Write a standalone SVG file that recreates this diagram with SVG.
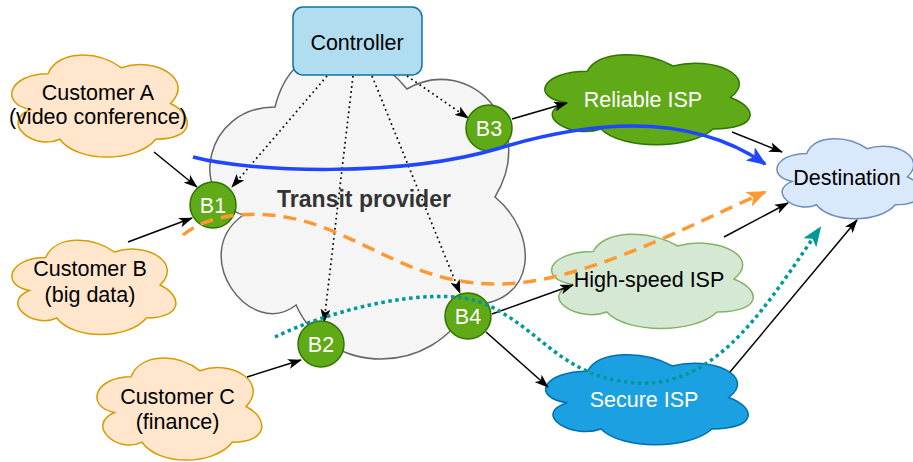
<svg xmlns="http://www.w3.org/2000/svg" width="913" height="462" viewBox="0 0 913 462">
  <style>
    text { font-family: "Liberation Sans", Helvetica, Arial, sans-serif; font-size: 21.5px; text-anchor: middle; fill: #000; }
    .cloud { stroke-width: 1.5; }
    .cust { fill: #ffe6cc; stroke: #d79b00; }
    .bnode circle { fill: #60a917; stroke: #2d7600; stroke-width: 1.5; }
    .white { fill: #fff; }
    .edge { fill: none; stroke: #000; stroke-width: 1.5; marker-end: url(#arrow); }
    .ctrl { fill: none; stroke: #000; stroke-width: 1.7; stroke-dasharray: 1.7 3.4; marker-end: url(#arrow); }
    .flow { fill: none; stroke-width: 3.5; }
  </style>
  <defs>
    <marker id="arrow" markerUnits="userSpaceOnUse" viewBox="0 0 14 10" markerWidth="14" markerHeight="10" refX="13" refY="5" orient="auto">
      <path d="M0,0 L14,5 L0,10 L3.5,5 Z" fill="#000"/>
    </marker>
    <marker id="arrowBlue" markerUnits="userSpaceOnUse" viewBox="0 0 20 16" markerWidth="20" markerHeight="16" refX="18" refY="8" orient="auto">
      <path d="M0,0 L20,8 L0,16 L5,8 Z" fill="#2046ff"/>
    </marker>
    <marker id="arrowOrange" markerUnits="userSpaceOnUse" viewBox="0 0 20 16" markerWidth="20" markerHeight="16" refX="18" refY="8" orient="auto">
      <path d="M0,0 L20,8 L0,16 L5,8 Z" fill="#ff9933"/>
    </marker>
    <marker id="arrowTeal" markerUnits="userSpaceOnUse" viewBox="0 0 20 16" markerWidth="20" markerHeight="16" refX="18" refY="8" orient="auto">
      <path d="M0,0 L20,8 L0,16 L5,8 Z" fill="#009999"/>
    </marker>
  </defs>

  <!-- transit provider network -->
  <g id="transit">
    <path class="cloud" fill="#f5f5f5" stroke="#666" d="M275,107 C204.6,107 187,197 243.3,215 C187,254.6 250.4,341 296.1,305 C327.8,377 433.4,377 468.6,305 C539,305 539,233 495,197 C539,125 468.6,53 407,89 C363,35 292.6,35 275,107 Z"/>
    <text x="364" y="207" style="font-weight:bold;font-size:23px;fill:#333">Transit provider</text>
  </g>

  <g id="controller">
    <rect x="293" y="7" width="129" height="68" rx="10" fill="#b1ddf0" stroke="#10739e" stroke-width="1.5"/>
    <text x="357" y="50">Controller</text>
  </g>

  <g id="customerA">
    <path class="cloud cust" d="M48,73.75 C8.8,73.75 -1,103.5 30.4,109.45 C-1,122.5 34.3,151.1 59.8,139.2 C77.4,163 136.2,163 155.8,139.2 C195,139.2 195,115.4 170.5,103.5 C195,79.7 155.8,55.9 121.5,67.8 C97,49.95 57.8,49.95 48,73.75 Z"/>
    <text x="98" y="100">Customer A</text>
    <text x="98" y="124">(video conference)</text>
  </g>

  <g id="customerB">
    <path class="cloud cust" d="M45.75,257.5 C9.15,257.5 0,285 29.3,290.5 C0,302.6 32.9,329 56.7,318 C73.2,340 128.1,340 146.4,318 C183,318 183,296 160.1,285 C183,263 146.4,241 114.4,252 C91.5,235.5 54.9,235.5 45.75,257.5 Z"/>
    <text x="90" y="276">Customer B</text>
    <text x="90" y="302">(big data)</text>
  </g>

  <g id="customerC">
    <path class="cloud cust" d="M131,376.75 C94.2,376.75 85,406.5 114.4,412.45 C85,425.5 118.1,454.1 142,442.2 C158.6,466 213.8,466 232.2,442.2 C269,442.2 269,418.4 246,406.5 C269,382.7 232.2,358.9 200,370.8 C177,352.95 140.2,352.95 131,376.75 Z"/>
    <text x="177.5" y="404">Customer C</text>
    <text x="177.5" y="429">(finance)</text>
  </g>

  <g id="reliableISP">
    <path class="cloud" fill="#60a917" stroke="#2d7600" d="M587.25,71.25 C541.45,71.25 530,97.5 566.6,102.75 C530,114.3 571.2,139.5 601,129 C621.6,150 690.3,150 713.2,129 C759,129 759,108 730.4,97.5 C759,76.5 713.2,55.5 673.1,66 C644.5,50.25 598.7,50.25 587.25,71.25 Z"/>
    <text x="643" y="107" class="white">Reliable ISP</text>
  </g>

  <g id="highSpeedISP">
    <path class="cloud" fill="#d5e8d4" stroke="#82b366" d="M593.25,251.5 C548.25,251.5 537,279 573,284.5 C537,296.6 577.5,323 606.75,312 C627,334 694.5,334 717,312 C762,312 762,290 733.9,279 C762,257 717,235 677.6,246 C649.5,229.5 604.5,229.5 593.25,251.5 Z"/>
    <text x="649" y="287">High-speed ISP</text>
  </g>

  <g id="secureISP">
    <path class="cloud" fill="#1ba1e2" stroke="#006eaf" d="M587.5,371.25 C542.3,371.25 531,397.5 567.2,402.75 C531,414.3 571.7,439.5 601.1,429 C621.4,450 689.2,450 711.8,429 C757,429 757,408 728.75,397.5 C757,376.5 711.8,355.5 672.25,366 C644,350.25 598.8,350.25 587.5,371.25 Z"/>
    <text x="644" y="407" class="white">Secure ISP</text>
  </g>

  <g id="destination">
    <path class="cloud" fill="#dae8fc" stroke="#6c8ebf" d="M806.75,153.4 C774.55,153.4 766.5,176.75 792.3,181.4 C766.5,191.7 795.5,214.15 816.4,204.8 C830.9,223.5 879.2,223.5 895.3,204.8 C927.5,204.8 927.5,186.1 907.4,176.75 C927.5,158.05 895.3,139.35 867.1,148.7 C847,134.7 814.8,134.7 806.75,153.4 Z"/>
    <text x="847" y="185">Destination</text>
  </g>

  <!-- links between customers, border routers, ISPs and destination -->
  <g id="connectors">
    <path class="edge" d="M154,152 L197,187"/>
    <path class="edge" d="M128,242 L192,218"/>
    <path class="edge" d="M247,377 L301,360"/>
    <path class="edge" d="M512,119 L567,103"/>
    <path class="edge" d="M492,314 L573,285"/>
    <path class="edge" d="M486,332 L548,387"/>
    <path class="edge" d="M732,132 L782,152"/>
    <path class="edge" d="M724,237 L788,203"/>
    <path class="edge" d="M730,372 L857,220"/>
    <!-- control channels -->
    <path class="ctrl" d="M327,76 L232,187"/>
    <path class="ctrl" d="M353,76 L324,322"/>
    <path class="ctrl" d="M372,76 L460,293"/>
    <path class="ctrl" d="M407,76 L468,118"/>
  </g>

  <g id="B1" class="bnode">
    <circle cx="213" cy="205" r="23"/>
    <text x="213" y="213" class="white">B1</text>
  </g>
  <g id="B2" class="bnode">
    <circle cx="321" cy="344" r="23"/>
    <text x="321" y="352" class="white">B2</text>
  </g>
  <g id="B3" class="bnode">
    <circle cx="489" cy="128" r="23"/>
    <text x="489" y="136" class="white">B3</text>
  </g>
  <g id="B4" class="bnode">
    <circle cx="468" cy="316" r="23"/>
    <text x="468" y="324" class="white">B4</text>
  </g>

  <!-- traffic flows per customer -->
  <g id="flows">
    <path class="flow" stroke="#2046ff" marker-end="url(#arrowBlue)" d="M193,157 C250,172 400,178 500,148 C570,127 680,105 765,164"/>
    <path class="flow" stroke="#ff9933" stroke-dasharray="13 8" marker-end="url(#arrowOrange)" d="M183,235 C210,212 270,205 330,230 C390,255 430,285 500,284 C580,283 680,230 765,192"/>
    <path class="flow" stroke="#009999" stroke-dasharray="3.5 3.5" marker-end="url(#arrowTeal)" d="M275,337 C330,310 430,285 480,302 C540,325 560,380 640,383 C720,386 770,300 820,228"/>
  </g>
</svg>
